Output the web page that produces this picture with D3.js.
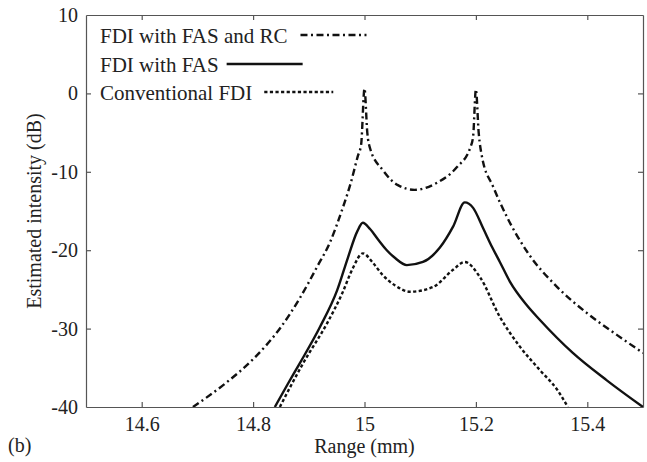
<!DOCTYPE html>
<html>
<head>
<meta charset="utf-8">
<script src="https://cdn.jsdelivr.net/npm/d3@7"></script>
<style>
  html, body { margin: 0; padding: 0; background: #fff; }
  svg { display: block; }
  svg text { font-family: "Liberation Serif", "Times New Roman", Times, "DejaVu Serif", serif !important; fill: #222; }
</style>
</head>
<body>
<div id="chart"></div>
<script>
// Range samples (mm) and estimated intensity (dB) for each reconstruction
const rcRange = [14.692, 14.75, 14.80, 14.85, 14.884, 14.915, 14.938, 14.96, 14.975, 14.988, 14.994, 15.000, 15.005, 15.010, 15.033, 15.06, 15.09, 15.13, 15.166, 15.19, 15.195, 15.200, 15.205, 15.211, 15.231, 15.256, 15.292, 15.346, 15.399, 15.453, 15.50];
const rcValues = [-40, -37.0, -33.9, -29.8, -26.1, -22.1, -19.0, -14.8, -11.5, -8.0, -6.5, 0.6, -5.0, -7.0, -9.8, -11.7, -12.3, -11.4, -9.4, -6.9, -5.5, 0.5, -5.0, -8.1, -11.9, -15.8, -20.2, -24.7, -28.0, -30.8, -33.1];

const fasRange = [14.839, 14.862, 14.884, 14.920, 14.951, 14.970, 14.987, 14.997, 15.010, 15.024, 15.040, 15.055, 15.076, 15.105, 15.135, 15.159, 15.180, 15.195, 15.213, 15.229, 15.243, 15.261, 15.290, 15.315, 15.374, 15.435, 15.50];
const fasValues = [-40, -37.1, -34.4, -29.8, -25.1, -21.0, -17.6, -16.5, -17.3, -18.6, -20.0, -21.0, -21.9, -21.5, -19.7, -17.0, -13.9, -14.6, -17.2, -19.6, -21.5, -24.0, -26.9, -28.9, -33.1, -36.6, -40];

const convRange = [14.848, 14.870, 14.890, 14.933, 14.960, 14.979, 14.997, 15.015, 15.033, 15.055, 15.082, 15.123, 15.159, 15.180, 15.207, 15.243, 15.279, 15.315, 15.346, 15.365];
const convValues = [-40, -37.0, -34.4, -29.3, -25.5, -22.3, -20.4, -21.6, -23.2, -24.5, -25.3, -24.7, -22.5, -21.5, -23.4, -28.5, -32.3, -35.3, -37.8, -40];

const seriesNames = ["FDI with FAS and RC", "FDI with FAS", "Conventional FDI"];
const xTicks = [14.6, 14.8, 15, 15.2, 15.4];
const yTicks = [-40, -30, -20, -10, 0, 10];

const W = 647, H = 462;
const margin = { left: 86, right: 4, top: 15, bottom: 55 };
const FONT = "'Liberation Serif', 'Times New Roman', Times, 'DejaVu Serif', serif";

const svg = d3.select("#chart").append("svg")
  .attr("width", W).attr("height", H)
  .attr("font-family", FONT);

const x = d3.scaleLinear().domain([14.5, 15.5]).range([margin.left, W - margin.right]);
const y = d3.scaleLinear().domain([-40, 10]).range([H - margin.bottom, margin.top]);

svg.append("defs").append("clipPath").attr("id", "plot-clip")
  .append("rect")
  .attr("x", x(14.5)).attr("y", y(10))
  .attr("width", x(15.5) - x(14.5)).attr("height", y(-40) - y(10));

const fmt = d => String(d);
const tickLen = 5;

// bottom axis with labels, inward ticks
const xAxis = svg.append("g")
  .attr("transform", `translate(0,${y(-40)})`)
  .call(d3.axisBottom(x).tickValues(xTicks).tickFormat(fmt).tickSizeInner(-tickLen).tickSizeOuter(0).tickPadding(10));
// top axis mirror ticks
const xAxisTop = svg.append("g")
  .attr("transform", `translate(0,${y(10)})`)
  .call(d3.axisTop(x).tickValues(xTicks).tickFormat("").tickSizeInner(-tickLen).tickSizeOuter(0));
// left axis with labels
const yAxis = svg.append("g")
  .attr("transform", `translate(${x(14.5)},0)`)
  .call(d3.axisLeft(y).tickValues(yTicks).tickFormat(fmt).tickSizeInner(-tickLen).tickSizeOuter(0).tickPadding(8));
// right axis mirror ticks
const yAxisRight = svg.append("g")
  .attr("transform", `translate(${x(15.5)},0)`)
  .call(d3.axisRight(y).tickValues(yTicks).tickFormat("").tickSizeInner(-tickLen).tickSizeOuter(0));

[xAxis, xAxisTop, yAxis, yAxisRight].forEach(g => {
  g.attr("font-family", FONT).attr("font-size", 20);
  g.select(".domain").attr("stroke", "#555").attr("stroke-width", 1.2);
  g.selectAll(".tick line").attr("stroke", "#555").attr("stroke-width", 1.2);
  g.selectAll(".tick text").attr("fill", "#222");
});

// remove end ticks that sit on the frame corners
yAxis.selectAll(".tick").filter(d => d === -40 || d === 10).select("line").remove();
yAxisRight.selectAll(".tick").filter(d => d === -40 || d === 10).select("line").remove();

// axis titles
svg.append("text")
  .attr("x", (x(14.5) + x(15.5)) / 2).attr("y", 453)
  .attr("text-anchor", "middle").attr("font-size", 20)
  .text("Range (mm)");

svg.append("text")
  .attr("transform", `translate(41,${(y(10) + y(-40)) / 2}) rotate(-90)`)
  .attr("text-anchor", "middle").attr("font-size", 20)
  .text("Estimated intensity (dB)");

svg.append("text")
  .attr("x", 8).attr("y", 452).attr("font-size", 20)
  .text("(b)");

const styles = [
  { dash: "7,3.5,2,3.5" },
  { dash: null },
  { dash: "3.2,2.4" }
];

const series = [
  { r: rcRange, v: rcValues },
  { r: fasRange, v: fasValues },
  { r: convRange, v: convValues }
];

const line = d3.line()
  .x(d => x(d[0])).y(d => y(d[1]))
  .curve(d3.curveMonotoneX);

const plot = svg.append("g").attr("clip-path", "url(#plot-clip)");
series.forEach((s, i) => {
  const pts = s.r.map((r, k) => [r, s.v[k]]);
  plot.append("path")
    .datum(pts)
    .attr("d", line)
    .attr("fill", "none")
    .attr("stroke", "#111")
    .attr("stroke-width", 2.4)
    .attr("stroke-linejoin", "round")
    .attr("stroke-dasharray", styles[i].dash);
});

// legend: label followed by a sample of the line style
const legendBase = [43, 72, 100];
const legendGap = [13, 8, 12];
const legendLen = [66, 76, 69];
seriesNames.forEach((name, i) => {
  const t = svg.append("text")
    .attr("x", 100).attr("y", legendBase[i])
    .attr("font-size", 21)
    .text(name);
  const end = 100 + t.node().getComputedTextLength();
  svg.append("line")
    .attr("x1", end + legendGap[i]).attr("x2", end + legendGap[i] + legendLen[i])
    .attr("y1", legendBase[i] - 8).attr("y2", legendBase[i] - 8)
    .attr("stroke", "#111").attr("stroke-width", 2.4)
    .attr("stroke-dasharray", styles[i].dash);
});
</script>
</body>
</html>
